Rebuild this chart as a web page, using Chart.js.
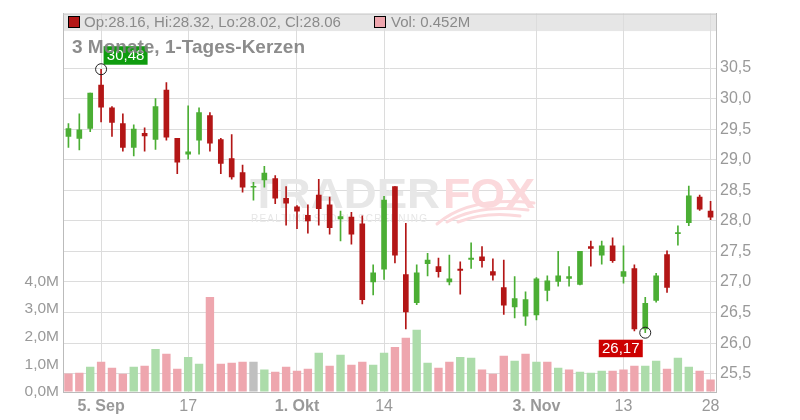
<!DOCTYPE html>
<html>
<head>
<meta charset="utf-8">
<script src="https://cdn.jsdelivr.net/npm/chart.js@4.4.1/dist/chart.umd.min.js"></script>
<style>
  body { margin: 0; background: #fff; }
</style>
</head>
<body>
<canvas id="kerzenChart" width="800" height="420"></canvas>
<script>
// Tageskerzen (3 Monate)
const open = [
  29.38, 29.35, 29.51, 30.22, 29.85, 29.59, 29.20, 29.43, 29.33, 30.14,
  29.35, 29.09, 29.32, 29.72, 29.33, 29.02, 28.79, 28.55, 28.67, 28.69,
  28.37, 28.23, 28.09, 28.42, 28.26, 28.03, 28.06, 27.95, 27.00, 27.21,
  28.56, 27.12, 26.66, 27.30, 27.25, 27.00, 27.21, 27.37, 27.41, 27.17,
  26.91, 26.59, 26.44, 26.46, 26.86, 27.01, 27.06, 26.96, 27.58, 27.44,
  27.59, 27.09, 27.22, 26.23, 26.70, 27.45, 27.79, 27.97, 28.39, 28.16,
];
const high = [
  29.59, 29.75, 30.09, 30.48, 29.87, 29.75, 29.57, 29.52, 30.00, 30.26,
  29.35, 29.88, 29.85, 29.77, 29.35, 29.41, 28.91, 28.63, 28.89, 28.74,
  28.56, 28.25, 28.26, 28.68, 28.39, 28.16, 28.14, 28.08, 27.28, 28.40,
  28.56, 27.96, 27.28, 27.47, 27.39, 27.44, 27.33, 27.64, 27.58, 27.38,
  27.36, 27.09, 26.84, 27.07, 27.10, 27.50, 27.25, 27.50, 27.67, 27.67,
  27.72, 27.59, 27.28, 26.75, 27.14, 27.51, 27.92, 28.57, 28.42, 28.32,
];
const low = [
  29.20, 29.16, 29.46, 29.62, 29.38, 29.14, 29.06, 29.14, 29.17, 29.32,
  28.77, 29.01, 29.09, 29.14, 28.77, 28.68, 28.47, 28.34, 28.55, 28.28,
  27.93, 27.87, 27.80, 27.93, 27.78, 27.67, 27.62, 26.64, 26.79, 27.04,
  27.31, 26.23, 26.63, 27.10, 27.08, 26.95, 26.80, 27.22, 27.24, 27.03,
  26.47, 26.41, 26.29, 26.38, 26.69, 26.93, 26.93, 26.95, 27.26, 27.29,
  27.32, 26.98, 26.20, 26.17, 26.67, 26.83, 27.60, 27.92, 28.17, 28.02,
];
const close = [
  29.51, 29.49, 30.09, 29.86, 29.61, 29.20, 29.50, 29.39, 29.87, 29.37,
  28.96, 29.13, 29.77, 29.27, 28.94, 28.72, 28.55, 28.55, 28.78, 28.37,
  28.29, 28.16, 28.00, 28.20, 27.89, 28.07, 27.78, 26.71, 27.15, 28.34,
  27.44, 26.51, 27.15, 27.36, 27.17, 27.05, 27.19, 27.39, 27.35, 27.11,
  26.62, 26.73, 26.71, 27.05, 27.02, 27.10, 27.09, 27.50, 27.55, 27.59,
  27.35, 27.17, 26.23, 26.65, 27.10, 26.91, 27.80, 28.41, 28.19, 28.06,
];
// Volumen in Mio.
const volume = [
  0.67, 0.70, 0.91, 1.09, 0.88, 0.66, 0.91, 0.95, 1.56, 1.38,
  0.84, 1.27, 1.02, 3.44, 1.02, 1.06, 1.09, 1.09, 0.81, 0.73,
  0.91, 0.77, 0.84, 1.42, 0.95, 1.35, 0.99, 1.09, 0.99, 1.42,
  1.63, 1.96, 2.25, 1.06, 0.88, 1.09, 1.27, 1.24, 0.81, 0.66,
  1.31, 1.13, 1.38, 1.09, 1.09, 0.88, 0.81, 0.73, 0.70, 0.77,
  0.77, 0.81, 0.95, 0.95, 1.13, 0.84, 1.24, 0.91, 0.77, 0.452,
];
const prevClose = 29.60; // Schlusskurs vor der ersten Kerze

// Achsenbeschriftung (Index der Kerze -> Text)
const tickIdx = [3, 11, 21, 29, 43, 51, 59];
const tickText = ['5. Sep', '17', '1. Okt', '14', '3. Nov', '13', '28'];

const titel = '3 Monate, 1-Tages-Kerzen';

const FONT = '"Liberation Sans", Arial, sans-serif';
const GREEN = '#4bae34';
const RED = '#b31616';
const VOL_GREEN = '#acdcaa';
const VOL_RED = '#eea6ae';
const VOL_GREY = '#c0c0c0';

const labels = open.map((_, i) => {
  const k = tickIdx.indexOf(i);
  return k < 0 ? '' : tickText[k];
});

const candleColors = open.map((o, i) => (close[i] >= o ? GREEN : RED));
const volColors = close.map((c, i) => {
  const p = i === 0 ? prevClose : close[i - 1];
  if (c > p) return VOL_GREEN;
  if (c < p) return VOL_RED;
  return VOL_GREY;
});

const fmt = (v, d) => v.toFixed(d).replace('.', ',');

// Zusatz: Legendenleiste, Titel, Wasserzeichen, Hoch/Tief Marker
const overlay = {
  id: 'overlay',
  beforeDraw(chart) {
    const {ctx, chartArea: a} = chart;
    ctx.save();
    ctx.fillStyle = '#e6e6e6';
    ctx.fillRect(a.left, a.top, a.right - a.left, 17.5);
    ctx.restore();
  },
  beforeDatasetsDraw(chart) {
    const {ctx} = chart;
    ctx.save();
    ctx.textBaseline = 'alphabetic';
    ctx.font = '900 43px ' + FONT;
    let w = ctx.measureText('TRADER').width;
    ctx.save();
    ctx.translate(250, 208);
    ctx.scale(190 / w, 1);
    ctx.fillStyle = '#e7e7e7';
    ctx.fillText('TRADER', 0, 0);
    ctx.restore();
    w = ctx.measureText('FOX').width;
    ctx.save();
    ctx.translate(443, 208);
    ctx.scale(92 / w, 1);
    ctx.fillStyle = '#fbd9dc';
    ctx.fillText('FOX', 0, 0);
    ctx.restore();

    // Fuchsschwanz
    ctx.strokeStyle = '#fbd9dc';
    ctx.lineWidth = 3;
    ctx.lineCap = 'round';
    [[437, 224, 470, 196, 534, 203], [447, 222, 478, 204, 528, 210], [458, 222, 486, 211, 520, 216]]
      .forEach(([x0, y0, cx, cy, x1, y1]) => {
        ctx.beginPath();
        ctx.moveTo(x0, y0);
        ctx.quadraticCurveTo(cx, cy, x1, y1);
        ctx.stroke();
      });

    ctx.font = '10px ' + FONT;
    ctx.fillStyle = '#e6e6e6';
    const txt = 'REALTIME STOCK SCREENING';
    const tw = ctx.measureText(txt).width;
    ctx.letterSpacing = ((176 - tw) / (txt.length - 1)).toFixed(2) + 'px';
    ctx.fillText(txt, 251, 222);
    ctx.restore();
  },
  afterDraw(chart) {
    const {ctx, chartArea: a, scales} = chart;
    ctx.save();
    // obere Rahmenlinie
    ctx.strokeStyle = '#c8c8c8';
    ctx.lineWidth = 1;
    ctx.beginPath();
    ctx.moveTo(a.left, a.top + 0.5);
    ctx.lineTo(a.right, a.top + 0.5);
    ctx.stroke();

    // Legende
    const last = open.length - 1;
    ctx.fillStyle = candleColors[last];
    ctx.fillRect(68.5, 16.5, 11, 11);
    ctx.strokeStyle = '#000';
    ctx.strokeRect(68.5, 16.5, 11, 11);
    ctx.fillStyle = volColors[last];
    ctx.fillRect(374.5, 16.5, 11, 11);
    ctx.strokeRect(374.5, 16.5, 11, 11);
    ctx.font = '15px ' + FONT;
    ctx.fillStyle = '#8a8a8a';
    ctx.textBaseline = 'middle';
    ctx.textAlign = 'left';
    ctx.fillText('Op:' + open[last].toFixed(2) + ', Hi:' + high[last].toFixed(2) +
      ', Lo:' + low[last].toFixed(2) + ', Cl:' + close[last].toFixed(2), 84, 22.5);
    ctx.fillText('Vol: ' + volume[last].toFixed(3) + 'M', 391, 22.5);

    // Hoch / Tief
    const hiIdx = high.indexOf(Math.max(...high));
    const loIdx = low.indexOf(Math.min(...low));
    const hx = scales.x.getPixelForValue(hiIdx);
    const hy = scales.y.getPixelForValue(high[hiIdx]);
    const lx = scales.x.getPixelForValue(loIdx);
    const ly = scales.y.getPixelForValue(low[loIdx]);

    ctx.textAlign = 'center';
    ctx.fillStyle = '#0f9c0f';
    ctx.fillRect(hx + 2.5, hy - 23, 44, 18.5);
    ctx.fillStyle = '#fff';
    ctx.fillText(fmt(high[hiIdx], 2), hx + 24.5, hy - 13.5);

    ctx.fillStyle = '#cc0000';
    ctx.fillRect(lx - 46.5, ly + 7, 44, 17.5);
    ctx.fillStyle = '#fff';
    ctx.fillText(fmt(low[loIdx], 2), lx - 24.5, ly + 16);

    ctx.strokeStyle = '#222';
    ctx.beginPath();
    ctx.arc(hx, hy, 5.5, 0, Math.PI * 2);
    ctx.stroke();
    ctx.beginPath();
    ctx.arc(lx, ly, 5.5, 0, Math.PI * 2);
    ctx.stroke();

    // Titel
    ctx.textAlign = 'left';
    ctx.font = 'bold 19px ' + FONT;
    ctx.fillStyle = 'rgba(128,128,128,0.9)';
    ctx.fillText(titel, 72, 48);
    ctx.restore();
  },
};

new Chart(document.getElementById('kerzenChart'), {
  type: 'bar',
  data: {
    labels: labels,
    datasets: [
      {
        label: 'Kerze',
        data: open.map((o, i) => [o, close[i]]),
        backgroundColor: candleColors,
        barThickness: 5,
        minBarLength: 1,
        grouped: false,
        yAxisID: 'y',
      },
      {
        label: 'Docht',
        data: low.map((l, i) => [l, high[i]]),
        backgroundColor: candleColors,
        barThickness: 1,
        grouped: false,
        yAxisID: 'y',
      },
      {
        label: 'Volumen',
        data: volume,
        backgroundColor: volColors,
        barPercentage: 0.77,
        categoryPercentage: 1,
        grouped: false,
        yAxisID: 'yv',
      },
    ],
  },
  options: {
    responsive: false,
    animation: false,
    devicePixelRatio: 1,
    layout: {padding: {top: 12, left: 0, right: 0, bottom: 0}},
    plugins: {
      legend: {display: false},
      tooltip: {enabled: false},
    },
    scales: {
      x: {
        type: 'category',
        offset: true,
        grid: {color: '#dcdcdc', offset: false, drawTicks: false},
        border: {color: '#bbb'},
        ticks: {
          autoSkip: false,
          maxRotation: 0,
          padding: 5,
          color: '#999',
          font: (c) => ({
            family: FONT,
            size: 16,
            weight: c.tick && /\D/.test(labels[c.tick.value]) ? 'bold' : 'normal',
          }),
          callback: (v) => labels[v],
        },
        afterBuildTicks: (s) => {
          s.ticks = s.ticks.filter((t) => labels[t.value] !== '');
        },
        afterFit: (s) => { s.height = 28; },
      },
      y: {
        position: 'right',
        min: 25.2,
        max: 31.39,
        grid: {color: '#dcdcdc', drawTicks: false},
        border: {color: '#bbb'},
        ticks: {
          stepSize: 0.5,
          includeBounds: false,
          padding: 4,
          color: '#999',
          font: {family: FONT, size: 16},
          callback: (v) => fmt(v, 1),
        },
        afterBuildTicks: (s) => {
          s.ticks = s.ticks.filter((t) => t.value >= 25.5 - 1e-6 && t.value <= 30.5 + 1e-6);
        },
        afterFit: (s) => { s.width = 84; },
      },
      yv: {
        position: 'left',
        min: 0,
        max: 13.69,
        grid: {drawOnChartArea: false, drawTicks: false},
        border: {color: '#bbb'},
        ticks: {
          stepSize: 1,
          includeBounds: false,
          padding: 4,
          color: '#999',
          font: {family: FONT, size: 15.5},
          callback: (v) => fmt(v, 1) + 'M',
        },
        afterBuildTicks: (s) => {
          s.ticks = s.ticks.filter((t) => t.value <= 4 + 1e-6);
        },
        afterFit: (s) => { s.width = 63; },
      },
    },
  },
  plugins: [overlay],
});
</script>
</body>
</html>
